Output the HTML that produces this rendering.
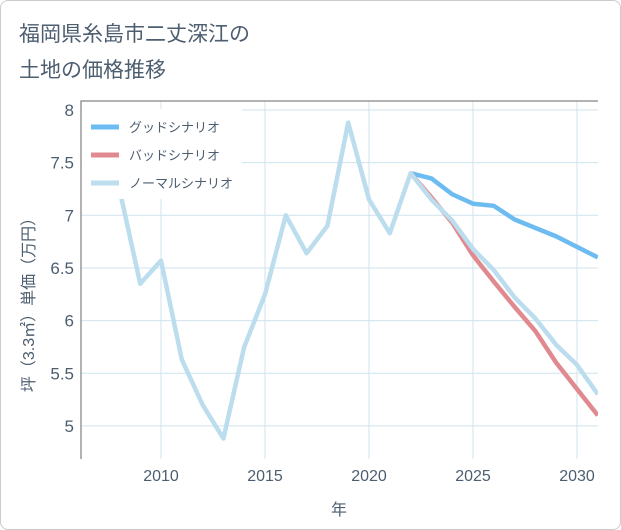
<!DOCTYPE html>
<html><head><meta charset="utf-8"><style>
body{margin:0;background:#fff;font-family:"Liberation Sans","Noto Sans CJK JP",sans-serif;}
#wrap{position:relative;width:619px;height:528px;border:1px solid #ccc;border-radius:8px;overflow:hidden;background:#fff}
</style></head><body>
<div id="wrap">
<svg id="chart" width="621" height="530"></svg>
</div>
<script>
const years=[2008,2009,2010,2011,2012,2013,2014,2015,2016,2017,2018,2019,2020,2021,2022,2023,2024,2025,2026,2027,2028,2029,2030,2031];
const normal=[7.25,6.35,6.57,5.63,5.2,4.88,5.75,6.25,7.0,6.64,6.9,7.88,7.15,6.83,7.4,7.15,6.95,6.68,6.48,6.22,6.02,5.77,5.58,5.3];
const goodYears=[2022,2023,2024,2025,2026,2027,2028,2029,2030,2031];
const good=[7.4,7.35,7.2,7.11,7.09,6.96,6.88,6.8,6.7,6.6];
const bad=[7.4,7.17,6.93,6.62,6.37,6.13,5.9,5.6,5.35,5.1];
const xTicks=[2010,2015,2020,2025,2030];
const yTicks=[5,5.5,6,6.5,7,7.5,8];
const yLabels=["5","5.5","6","6.5","7","7.5","8"];
const NS="http://www.w3.org/2000/svg";
const svg=document.getElementById('chart');
const TXT='#4d5e70';
const L=80,R=597,T=100,B=458;
const X=v=>160+(v-2010)*20.8;
const Y=v=>109+(8-v)*105.3;
function mk(t,a,p){const e=document.createElementNS(NS,t);for(const k in a)e.setAttribute(k,a[k]);(p||svg).appendChild(e);return e;}
const t1=mk('text',{x:18,y:40,'font-size':21,fill:TXT});t1.textContent='福岡県糸島市二丈深江の';

const t2=mk('text',{x:18,y:76,'font-size':21,fill:TXT});t2.textContent='土地の価格推移';

xTicks.forEach(v=>{const l=mk('line',{x1:X(v),x2:X(v),y1:T,y2:B,stroke:'#cfe3ee','stroke-width':1});

const tx=mk('text',{x:X(v),y:480,'font-size':16,fill:TXT,'text-anchor':'middle'});tx.textContent=v;
});
yTicks.forEach((v,i)=>{const l=mk('line',{x1:L,x2:R,y1:Y(v),y2:Y(v),stroke:'#cfe3ee','stroke-width':1});

const tx=mk('text',{x:73,y:Y(v)+6,'font-size':17,fill:TXT,'text-anchor':'end'});tx.textContent=yLabels[i];
});
const fr=mk('path',{d:`M${L},${B}V${T}H${R}`,fill:'none',stroke:'#999','stroke-width':1.5});

const defs=mk('defs',{});const cp=mk('clipPath',{id:'c'},defs);mk('rect',{x:L,y:T,width:R-L,height:B-T},cp);
function line(xs,ys,col,name){const d=xs.map((x,i)=>(i?'L':'M')+X(x)+','+Y(ys[i])).join('');
const p=mk('path',{d:d,fill:'none',stroke:col,'stroke-width':4.5,'stroke-linejoin':'round','clip-path':'url(#c)'});
}
line(goodYears,good,'#6cbcf2','good-scenario-line');
line(goodYears,bad,'#e08a90','bad-scenario-line');
line(years,normal,'#bcdded','normal-scenario-line');
const lg=mk('g',{});
mk('rect',{x:81,y:108,width:160,height:90,fill:'#fff'},lg);
[['グッドシナリオ','#6cbcf2'],['バッドシナリオ','#e08a90'],['ノーマルシナリオ','#bcdded']].forEach((e,i)=>{
const y=126+i*28;const g=mk('g',{},lg);
mk('line',{x1:90,x2:118,y1:y,y2:y,stroke:e[1],'stroke-width':5},g);
const tx=mk('text',{x:128,y:y+5,'font-size':13,fill:TXT},g);tx.textContent=e[0];});
const xt=mk('text',{x:338,y:514,'font-size':16,fill:TXT,'text-anchor':'middle'});xt.textContent='年';

const yt=mk('text',{x:0,y:0,'font-size':16,fill:TXT,'text-anchor':'middle',transform:'translate(33,300) rotate(-90)'});yt.textContent='坪（3.3㎡）単価（万円）';

</script>
</body></html>
